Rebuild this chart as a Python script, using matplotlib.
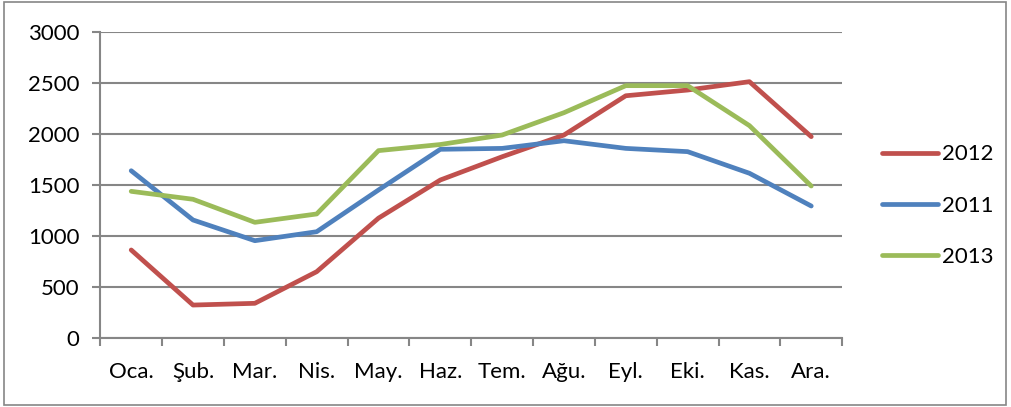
import matplotlib.pyplot as plt
from matplotlib.patches import Rectangle

months = ["Oca.", "Şub.", "Mar.", "Nis.", "May.", "Haz.",
          "Tem.", "Ağu.", "Eyl.", "Eki.", "Kas.", "Ara."]
y2012 = [866, 326, 343, 653, 1178, 1552, 1780, 1993, 2378, 2434, 2516, 1977]
y2011 = [1643, 1160, 957, 1045, 1454, 1853, 1862, 1937, 1862, 1830, 1618, 1297]
y2013 = [1441, 1363, 1137, 1219, 1840, 1900, 1993, 2212, 2477, 2477, 2085, 1493]

series = [("2012", y2012, "#C0504D"),
          ("2011", y2011, "#4F81BD"),
          ("2013", y2013, "#9BBB59")]

plt.rcParams['font.family'] = ['Lato', 'DejaVu Sans']
grid_col = "#868686"

fig = plt.figure(figsize=(10.11, 4.07), dpi=100)
ax = fig.add_axes([0.0992, 0.1688, 0.7338, 0.7518])

x = list(range(len(months)))
for name, vals, col in series:
    ax.plot(x, vals, color=col, lw=3.4, solid_capstyle='round',
            solid_joinstyle='round', label=name)

ax.set_xlim(-0.5, 11.5)
ax.set_ylim(0, 3000)
ax.set_yticks(range(0, 3001, 500))
ax.set_xticks(x)
ax.set_xticklabels(months)
ax.set_xticks([i - 0.5 for i in range(13)], minor=True)

ax.grid(axis='y', color=grid_col, lw=1.5)
ax.set_axisbelow(True)
for s in ['top', 'right']:
    ax.spines[s].set_visible(False)
for s in ['left', 'bottom']:
    ax.spines[s].set_color(grid_col)
    ax.spines[s].set_linewidth(1.5)

ax.tick_params(axis='y', length=6, width=1.5, color=grid_col,
               labelsize=16, pad=9)
ax.tick_params(axis='x', which='major', length=0, labelsize=16, pad=17)
ax.tick_params(axis='x', which='minor', length=6, width=1.5, color=grid_col)

ax.legend(loc='center left', bbox_to_anchor=(0.853, 0.495),
          bbox_transform=fig.transFigure, frameon=False, fontsize=16,
          handlelength=2.5, handletextpad=0.2, labelspacing=1.4)

fig.patches.append(Rectangle((0.004, 0.006), 0.991, 0.988,
                             transform=fig.transFigure, fill=False,
                             edgecolor=grid_col, lw=1.2))

fig.savefig("out.png", dpi=100)
